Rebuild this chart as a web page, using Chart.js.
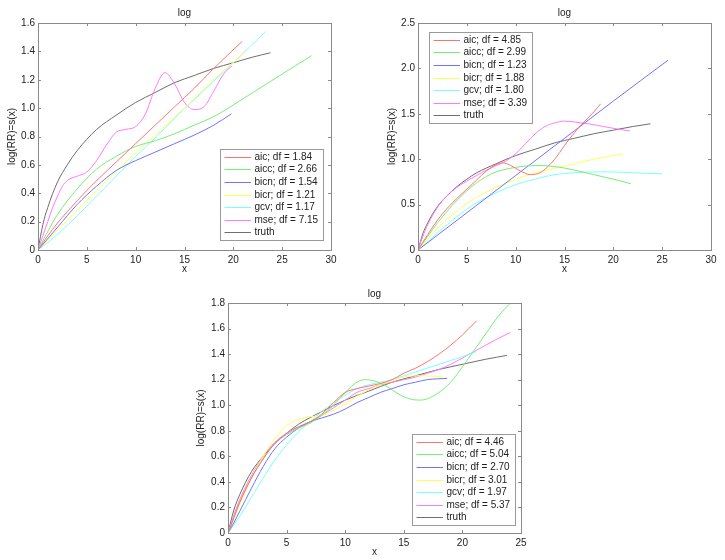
<!DOCTYPE html>
<html>
<head>
<meta charset="utf-8">
<script src="https://cdn.jsdelivr.net/npm/chart.js@4"></script>
<style>
  body { margin: 0; background: #fff; width: 725px; height: 560px; position: relative; overflow: hidden; }
  canvas { position: absolute; }
</style>
</head>
<body>
<canvas id="c1" width="360" height="280" style="left:0;top:0"></canvas>
<canvas id="c2" width="345" height="280" style="left:380px;top:0"></canvas>
<canvas id="c3" width="360" height="280" style="left:190px;top:280px"></canvas>
<script>
// ---- data ----
const labels = ['aic', 'aicc', 'bicn', 'bicr', 'gcv', 'mse', 'truth'];
const colors = ['#ff7272', '#78ec78', '#7272ff', '#ffff5a', '#7affff', '#ff7aff', '#6e6e6e'];

const truthX = [0, 0.5, 1, 2, 3, 4, 5, 6, 8, 10, 12, 14, 16, 18, 20, 22, 23.8];
const truthY = [0, 0.18, 0.30, 0.48, 0.60, 0.70, 0.78, 0.85, 0.95, 1.04, 1.11, 1.18, 1.23, 1.28, 1.32, 1.36, 1.39];

// panel 1 (top left)
const p1Df = [1.84, 2.66, 1.54, 1.21, 1.17, 7.15];
const p1AicX = [0, 1, 2, 3, 5, 8, 10, 12, 14, 16, 18, 20.9];
const p1AicY = [0, 0.1, 0.19, 0.27, 0.42, 0.62, 0.75, 0.88, 1.01, 1.14, 1.28, 1.47];
const p1AiccX = [0, 1, 2, 4, 6, 8, 10, 12, 14, 16, 18, 19, 22, 25, 28];
const p1AiccY = [0, 0.13, 0.25, 0.43, 0.57, 0.66, 0.73, 0.77, 0.82, 0.88, 0.94, 0.98, 1.11, 1.24, 1.37];
const p1BicnX = [0, 2, 4, 6, 8, 10, 12, 14, 16, 18, 19.8];
const p1BicnY = [0, 0.16, 0.32, 0.45, 0.56, 0.63, 0.69, 0.75, 0.81, 0.88, 0.96];
const p1BicrX = [0, 3, 6, 9, 12, 15, 18, 21.3];
const p1BicrY = [0, 0.21, 0.42, 0.62, 0.81, 1.0, 1.2, 1.40];
const p1GcvX = [0, 2, 4, 6, 8, 10, 12, 14, 16, 18, 20, 23.3];
const p1GcvY = [0, 0.11, 0.24, 0.38, 0.52, 0.66, 0.79, 0.93, 1.06, 1.19, 1.32, 1.54];
const p1MseX = [0, 0.5, 1, 1.5, 2, 2.5, 3, 4, 5, 6, 7, 8, 9, 10, 11, 12, 13, 14, 15, 16, 17, 18, 19, 19.9];
const p1MseY = [0, 0.1, 0.2, 0.3, 0.38, 0.45, 0.49, 0.52, 0.55, 0.63, 0.74, 0.83, 0.85, 0.87, 0.96, 1.14, 1.25, 1.17, 1.04, 0.99, 1.01, 1.12, 1.24, 1.30];

// panel 2 (top right)
const p2Df = [4.85, 2.99, 1.23, 1.88, 1.80, 3.39];
const p2AicX = [0, 1, 2, 3, 4, 5, 6, 7, 8, 8.7, 9.5, 10.5, 11.5, 12.5, 13, 14, 15, 16, 17, 18, 18.7];
const p2AicY = [0, 0.17, 0.33, 0.46, 0.57, 0.67, 0.77, 0.87, 0.94, 0.96, 0.93, 0.87, 0.83, 0.85, 0.89, 1.0, 1.15, 1.29, 1.41, 1.52, 1.61];
const p2AiccX = [0, 1, 2, 3, 4, 5, 6, 7, 8, 10, 12, 14, 16, 18, 20, 21.8];
const p2AiccY = [0, 0.15, 0.3, 0.43, 0.55, 0.65, 0.74, 0.81, 0.86, 0.91, 0.93, 0.92, 0.88, 0.83, 0.78, 0.73];
const p2BicnX = [0, 5, 10, 15, 20, 25.6];
const p2BicnY = [0, 0.41, 0.82, 1.23, 1.64, 2.09];
const p2BicrX = [0, 1, 2, 3, 4, 5, 6, 8, 10, 12, 14, 16, 18, 21];
const p2BicrY = [0, 0.12, 0.24, 0.34, 0.43, 0.51, 0.58, 0.69, 0.78, 0.85, 0.9, 0.95, 1.0, 1.06];
const p2GcvX = [0, 1, 2, 3, 4, 5, 6, 8, 10, 12, 14, 16, 18, 20, 22, 25];
const p2GcvY = [0, 0.09, 0.19, 0.28, 0.37, 0.45, 0.52, 0.63, 0.72, 0.78, 0.83, 0.85, 0.86, 0.86, 0.85, 0.84];
const p2MseX = [0, 0.5, 1, 2, 3, 4, 5, 6, 7, 8, 9, 10, 11, 12, 13, 14, 15, 16, 18, 20, 21.7];
const p2MseY = [0, 0.15, 0.28, 0.47, 0.6, 0.69, 0.76, 0.82, 0.88, 0.93, 0.98, 1.06, 1.17, 1.28, 1.36, 1.40, 1.42, 1.41, 1.38, 1.34, 1.31];

// panel 3 (bottom)
const p3Df = [4.46, 5.04, 2.70, 3.01, 1.97, 5.37];
const p3AicX = [0, 0.5, 1, 2, 3, 4, 5, 6, 7, 8, 9, 10, 11, 12, 13, 14, 15, 16, 17, 18, 19, 20, 21.2];
const p3AicY = [0, 0.12, 0.24, 0.43, 0.58, 0.7, 0.78, 0.83, 0.87, 0.93, 1.02, 1.1, 1.13, 1.15, 1.17, 1.2, 1.25, 1.29, 1.34, 1.4, 1.47, 1.55, 1.66];
const p3AiccX = [0, 0.5, 1, 2, 3, 4, 5, 6, 7, 8, 9, 10, 11, 11.7, 12.5, 13.5, 14.5, 15.5, 16.3, 17, 18, 19, 20, 21, 22, 23, 24.2];
const p3AiccY = [0, 0.12, 0.24, 0.43, 0.58, 0.7, 0.77, 0.82, 0.86, 0.92, 1.0, 1.1, 1.18, 1.2, 1.19, 1.15, 1.09, 1.05, 1.04, 1.05, 1.1, 1.18, 1.3, 1.43, 1.56, 1.69, 1.81];
const p3BicnX = [0, 0.5, 1, 2, 3, 4, 5, 6, 7, 8, 9, 10, 11, 12, 13, 14, 15, 16, 17, 18.7];
const p3BicnY = [0, 0.08, 0.17, 0.35, 0.52, 0.66, 0.75, 0.82, 0.87, 0.9, 0.93, 0.97, 1.02, 1.06, 1.1, 1.13, 1.16, 1.18, 1.2, 1.21];
const p3BicrX = [0, 1, 2, 3, 4, 5, 6, 7, 8, 9, 10, 11, 12, 13, 14, 15, 16, 17, 18.3];
const p3BicrY = [0, 0.22, 0.43, 0.6, 0.74, 0.84, 0.89, 0.91, 0.92, 0.96, 1.01, 1.07, 1.12, 1.16, 1.19, 1.22, 1.23, 1.23, 1.22];
const p3GcvX = [0, 1, 2, 3, 4, 5, 6, 7, 8, 9, 10, 11, 12, 13, 14, 15, 16, 17, 18, 19, 20, 21.2];
const p3GcvY = [0, 0.13, 0.28, 0.43, 0.57, 0.69, 0.79, 0.87, 0.95, 1.02, 1.08, 1.13, 1.16, 1.18, 1.2, 1.23, 1.26, 1.29, 1.32, 1.35, 1.38, 1.42];
const p3MseX = [0, 0.5, 1, 2, 3, 4, 5, 6, 7, 8, 9, 10, 11, 12, 13, 14, 15, 16, 17, 18, 19, 20, 21, 22, 23, 24.1];
const p3MseY = [0, 0.14, 0.26, 0.45, 0.6, 0.71, 0.78, 0.83, 0.87, 0.92, 0.98, 1.04, 1.1, 1.13, 1.16, 1.18, 1.2, 1.22, 1.25, 1.28, 1.32, 1.37, 1.42, 1.47, 1.52, 1.57];

const FONT = "'Liberation Sans', Arial, sans-serif";
const TEXT = '#222';
const AXIS = '#8a8a8a';

function pts(xs, ys) {
    return xs.map((x, i) => ({ x: x, y: ys[i] }));
}

function makeDatasets(series, dfs) {
    return series.map((s, i) => ({
        label: i < 6 ? `${labels[i]}; df = ${dfs[i].toFixed(2)}` : labels[i],
        data: pts(s[0], s[1]),
        borderColor: colors[i],
        borderWidth: 1,
        pointRadius: 0,
        fill: false,
        cubicInterpolationMode: 'monotone'
    }));
}

// MATLAB-like box, inward ticks, title and legend
const matlabFrame = {
    id: 'matlabFrame',
    afterDraw(chart, args, opts) {
        const ctx = chart.ctx;
        const ca = chart.chartArea;
        const xs = chart.scales.x, ys = chart.scales.y;
        ctx.save();
        ctx.strokeStyle = AXIS;
        ctx.lineWidth = 1;
        ctx.strokeRect(Math.round(ca.left) + 0.5, Math.round(ca.top) + 0.5,
            Math.round(ca.right - ca.left), Math.round(ca.bottom - ca.top));
        ctx.beginPath();
        xs.ticks.forEach(t => {
            const px = Math.round(xs.getPixelForValue(t.value)) + 0.5;
            ctx.moveTo(px, ca.bottom); ctx.lineTo(px, ca.bottom - 3);
            ctx.moveTo(px, ca.top); ctx.lineTo(px, ca.top + 3);
        });
        ys.ticks.forEach(t => {
            const py = Math.round(ys.getPixelForValue(t.value)) + 0.5;
            ctx.moveTo(ca.left, py); ctx.lineTo(ca.left + 3, py);
            ctx.moveTo(ca.right, py); ctx.lineTo(ca.right - 3, py);
        });
        ctx.stroke();

        // title
        ctx.fillStyle = TEXT;
        ctx.font = `10px ${FONT}`;
        ctx.textAlign = 'center';
        ctx.textBaseline = 'middle';
        ctx.fillText(opts.title, (ca.left + ca.right) / 2, ca.top - opts.titleGap);

        // legend
        const ds = chart.data.datasets;
        ctx.textAlign = 'left';
        const maxW = Math.max(...ds.map(d => ctx.measureText(d.label).width));
        const rowH = 12.6;
        const boxW = Math.round(34.5 + maxW + 5);
        const boxH = Math.round(ds.length * rowH + 3);
        let bx, by;
        if (opts.corner === 'se') {
            bx = Math.round(ca.right - opts.dx - boxW);
            by = Math.round(ca.bottom - opts.dy - boxH);
        } else {
            bx = Math.round(ca.left + opts.dx);
            by = Math.round(ca.top + opts.dy);
        }
        ctx.fillStyle = '#fff';
        ctx.fillRect(bx, by, boxW, boxH);
        ctx.strokeStyle = '#999';
        ctx.strokeRect(bx + 0.5, by + 0.5, boxW, boxH);
        ds.forEach((d, i) => {
            const cy = Math.round(by + 7.8 + i * rowH) + 0.5;
            ctx.strokeStyle = d.borderColor;
            ctx.beginPath();
            ctx.moveTo(bx + 4.5, cy); ctx.lineTo(bx + 31, cy);
            ctx.stroke();
            ctx.fillStyle = TEXT;
            ctx.fillText(d.label, bx + 34.5, cy);
        });
        ctx.restore();
    }
};

function makeChart(id, datasets, xMax, yMax, yStep, cfg) {
    const tickFont = { family: FONT, size: 10 };
    return new Chart(document.getElementById(id), {
        type: 'line',
        data: { datasets: datasets },
        plugins: [matlabFrame],
        options: {
            responsive: false,
            animation: false,
            layout: { padding: { top: cfg.padTop, right: cfg.padRight, left: 0, bottom: 0 } },
            plugins: {
                legend: { display: false },
                tooltip: { enabled: false },
                matlabFrame: { title: 'log', titleGap: cfg.titleGap, corner: cfg.corner, dx: cfg.dx, dy: cfg.dy }
            },
            scales: {
                x: {
                    type: 'linear', min: 0, max: xMax,
                    ticks: { stepSize: 5, padding: 4, color: TEXT, font: tickFont, maxRotation: 0, autoSkip: false },
                    grid: { drawOnChartArea: false, drawTicks: false },
                    border: { display: false },
                    title: { display: true, text: 'x', color: TEXT, font: tickFont, padding: { top: 0, bottom: cfg.xTitlePad } },
                    afterFit(s) { s.height = cfg.xHeight; }
                },
                y: {
                    min: 0, max: yMax,
                    ticks: { stepSize: yStep, padding: 3, color: TEXT, font: tickFont },
                    grid: { drawOnChartArea: false, drawTicks: false },
                    border: { display: false },
                    title: { display: true, text: 'log(RR)=s(x)', color: TEXT, font: tickFont, padding: { top: cfg.yTitlePad, bottom: 0 } },
                    afterFit(s) { s.width = 38; }
                }
            }
        }
    });
}

const truth = [truthX, truthY];

makeChart('c1', makeDatasets([
    [p1AicX, p1AicY], [p1AiccX, p1AiccY], [p1BicnX, p1BicnY], [p1BicrX, p1BicrY],
    [p1GcvX, p1GcvY], [p1MseX, p1MseY], truth], p1Df),
    30, 1.6, 0.2,
    { padTop: 23, padRight: 29, xHeight: 30, xTitlePad: 5, yTitlePad: 6.5, titleGap: 10, corner: 'se', dx: 8, dy: 10 });

makeChart('c2', makeDatasets([
    [p2AicX, p2AicY], [p2AiccX, p2AiccY], [p2BicnX, p2BicnY], [p2BicrX, p2BicrY],
    [p2GcvX, p2GcvY], [p2MseX, p2MseY], truth], p2Df),
    30, 2.5, 0.5,
    { padTop: 23, padRight: 14, xHeight: 30, xTitlePad: 5, yTitlePad: 6.5, titleGap: 10, corner: 'nw', dx: 11, dy: 9 });

makeChart('c3', makeDatasets([
    [p3AicX, p3AicY], [p3AiccX, p3AiccY], [p3BicnX, p3BicnY], [p3BicrX, p3BicrY],
    [p3GcvX, p3GcvY], [p3MseX, p3MseY], truth], p3Df),
    25, 1.8, 0.2,
    { padTop: 23, padRight: 29, xHeight: 27, xTitlePad: 2, yTitlePad: 5, titleGap: 8.5, corner: 'se', dx: 6, dy: 8 });
</script>
</body>
</html>
